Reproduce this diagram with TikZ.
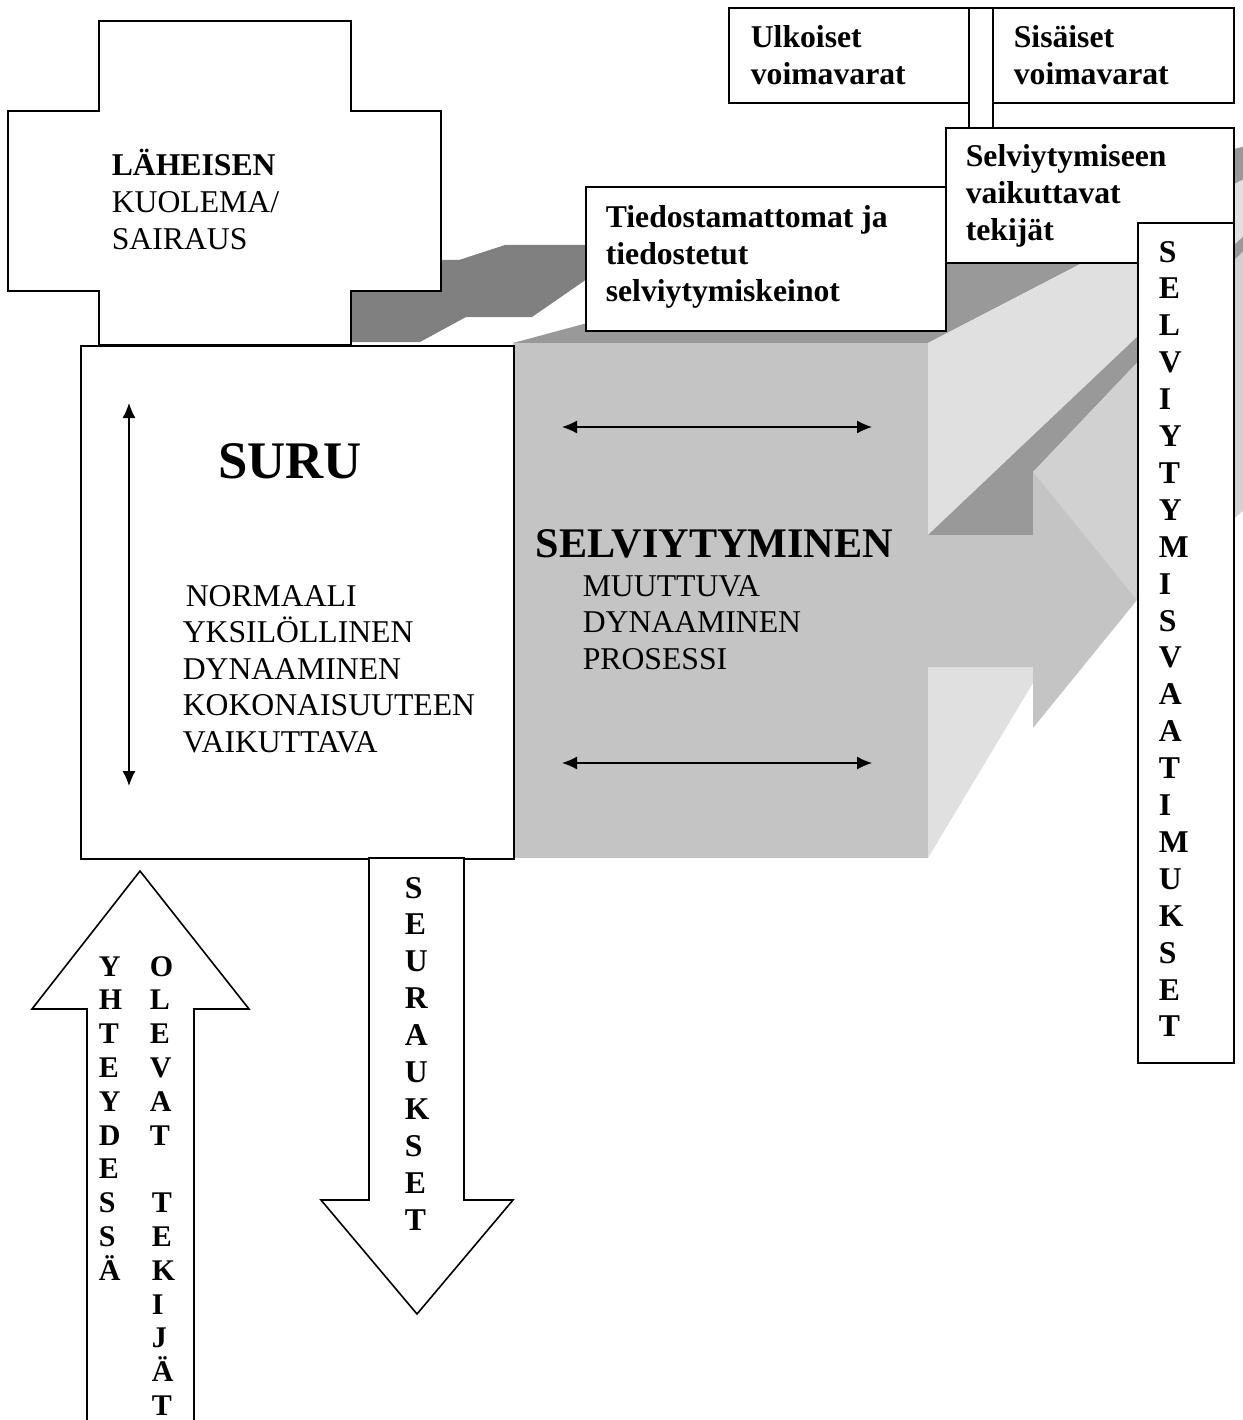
\documentclass[tikz,border=0pt]{standalone}
\usepackage{fontspec}
\setmainfont{Liberation Serif}
\usetikzlibrary{arrows.meta,positioning}
\definecolor{frontgray}{gray}{0.77}
\definecolor{sidegray}{gray}{0.88}
\definecolor{bandgray}{gray}{0.60}
\definecolor{headgray}{gray}{0.82}
\definecolor{backgray}{gray}{0.50}
\begin{document}
\begin{tikzpicture}[x=1pt, y=-1pt, line width=1.6pt,
    box/.style = {draw, fill=white, line width=1.6pt},
    frame/.style = {box, anchor=north west, inner sep=0pt},
    txt/.style = {inner sep=0pt, anchor=base west, align=left, font=\fontsize{31.7}{36.6}\selectfont},
    btxt/.style = {txt, font=\fontsize{31.7}{36.6}\selectfont\bfseries},
    column/.style = {txt, font=\fontsize{31.7}{36.9}\selectfont\bfseries},
    twoway/.style = {>={Latex[length=15pt, width=13pt]}, <->, line width=1.3pt}]
\useasboundingbox (0,0) rectangle (1242,1420);

% grey blocks behind
\fill[backgray] (340,342) -- (420,342) -- (466,317) -- (532,317) -- (600,270) -- (600,245) -- (505,245) -- (459,260) -- (340,260) -- cycle;
\draw[box] (99,21) -- (351,21) -- (351,111) -- (441,111) -- (441,291) -- (351,291) -- (351,345) -- (99,345) -- (99,291) -- (8,291) -- (8,111) -- (99,111) -- cycle;
\fill[bandgray] (513,343) -- (928,343) -- (1331,134) -- (1290,134) -- cycle;
\fill[sidegray] (928,343) -- (1331,134) -- (1331,186) -- (928,858) -- cycle;
\fill[frontgray] (513,343) rectangle (928,858);
\fill[bandgray] (928,535) -- (1033,535) -- (1033,472) -- (1250,244) -- (1250,230) -- cycle;
\fill[headgray] (1033,472) -- (1250,244) -- (1250,505) -- (1137,600) -- cycle;
\fill[frontgray] (928,535) -- (1033,535) -- (1033,472) -- (1137,600) -- (1033,728) -- (1033,667) -- (928,667) -- cycle;

% boxes
\node[frame, minimum width=433, minimum height=513] (suru) at (80,345) {};
\node[frame, minimum width=24, minimum height=120] (strip) at (968,7) {};
\node[frame, minimum width=240, minimum height=95] (ulk) at (728,7) {};
\node[frame, minimum width=241, minimum height=95] (sis) at (992,7) {};
\node[frame, minimum width=288, minimum height=135] (tekijat) at (945,127) {};
\node[frame, minimum width=360, minimum height=144] (keinot) at (585,186) {};
\node[frame, minimum width=96, minimum height=840] (vaatimukset) at (1137,222) {};

% block arrows
\draw[box] (140,871) -- (249,1009) -- (194,1009) -- (194,1424) -- (87,1424) -- (87,1009) -- (32,1009) -- cycle;
\draw[box] (369,858) -- (464,858) -- (464,1200) -- (513,1200) -- (417,1314) -- (321,1200) -- (369,1200) -- cycle;

% texts (anchored at the baseline of their last line)
\node[txt] (laheisen) at (111,{176+2*36.6}) {\textbf{LÄHEISEN}\\KUOLEMA/\\SAIRAUS};
\node[inner sep=0pt, anchor=base, font=\fontsize{52.8}{60}\selectfont\bfseries] (surut) at (290,478) {SURU};
\node[txt] (normaali) at (182,{606+4*36.6}) {\kern3pt NORMAALI\\YKSILÖLLINEN\\DYNAAMINEN\\KOKONAISUUTEEN\\VAIKUTTAVA};
\node[inner sep=0pt, anchor=base west, font=\fontsize{42.2}{48}\selectfont\bfseries] (selv) at (535,557) {SELVIYTYMINEN};
\node[txt] (muuttuva) at (582,{596+2*36.6}) {MUUTTUVA\\DYNAAMINEN\\PROSESSI};
\node[btxt] (ulkt) at (750,{48+36.6}) {Ulkoiset\\voimavarat};
\node[btxt] (sist) at (1013,{48+36.6}) {Sisäiset\\voimavarat};
\node[btxt] (tekt) at (965,{167+2*36.6}) {Selviytymiseen\\vaikuttavat\\tekijät};
\node[btxt] (keit) at (605,{228+2*36.6}) {Tiedostamattomat ja\\tiedostetut\\selviytymiskeinot};
\node[column] (vaat) at (1158,{262+21*36.9}) {S\\E\\L\\V\\I\\Y\\T\\Y\\M\\I\\S\\V\\A\\A\\T\\I\\M\\U\\K\\S\\E\\T};
\node[column] (seur) at (404,{898+9*36.9}) {S\\E\\U\\R\\A\\U\\K\\S\\E\\T};
\node[txt, font=\fontsize{30}{33.8}\selectfont\bfseries] (yht) at (98,{976+9*33.8}) {Y\\H\\T\\E\\Y\\D\\E\\S\\S\\Ä};
\node[txt, font=\fontsize{30}{33.8}\selectfont\bfseries] (olevat) at (149,{976+13*33.8}) {O\\L\\E\\V\\A\\T\\\strut\\\kern2pt T\\\kern2pt E\\\kern2pt K\\\kern2pt I\\\kern2pt J\\\kern2pt Ä\\\kern2pt T};

% two-way arrows
\coordinate (vtop) at (129,403);
\coordinate (vbot) at (129,786);
\coordinate (h1l) at (562,427);
\coordinate (h1r) at (872,427);
\coordinate (h2l) at (562,763);
\coordinate (h2r) at (872,763);
\draw[twoway] (vtop) -- (vbot);
\draw[twoway] (h1l) -- (h1r);
\draw[twoway] (h2l) -- (h2r);
\end{tikzpicture}
\end{document}
